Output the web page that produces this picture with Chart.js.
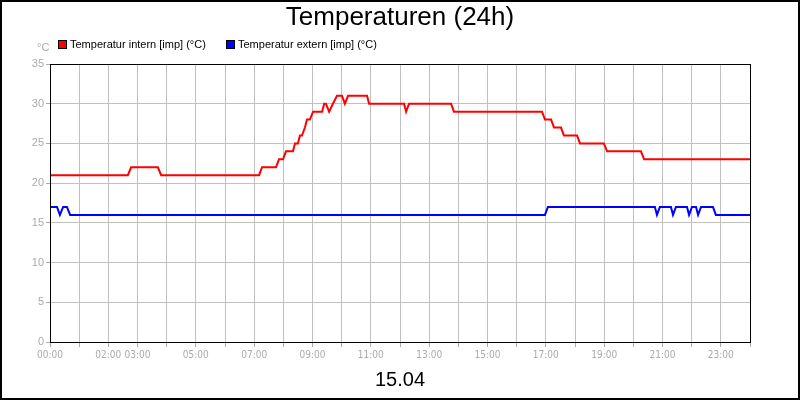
<!DOCTYPE html>
<html><head><meta charset="utf-8">
<script src="https://cdn.jsdelivr.net/npm/chart.js@4/dist/chart.umd.min.js"></script>
<style>html,body{margin:0;padding:0;background:#fff}#w{width:800px;height:400px}</style>
</head><body><div id="w"><canvas id="c"></canvas></div>
<script>
const chartTitle = "Temperaturen (24h)";
const dateLabel = "15.04";
const seriesNames = ["Temperatur intern [imp] (°C)", "Temperatur extern [imp] (°C)"];
const xLabelHours = [0, 2, 3, 5, 7, 9, 11, 13, 15, 17, 19, 21, 23];
const internHours = [0,2.67,2.78,3.70,3.81,7.17,7.27,7.75,7.85,7.99,8.09,8.33,8.40,8.50,8.57,8.64,8.74,8.81,8.91,9.02,9.33,9.40,9.46,9.57,9.70,9.84,10.01,10.11,10.22,10.87,10.94,12.14,12.21,12.31,13.75,13.85,16.87,16.97,17.18,17.28,17.52,17.62,18.07,18.17,18.99,19.10,20.26,20.37,24];
const internTemps = [21,21,22,22,21,21,22,22,23,23,24,24,25,25,26,26,27,28,28,29,29,30,30,29,30,31,31,30,31,31,30,30,29,30,30,29,29,28,28,27,27,26,26,25,25,24,24,23,23];
const externHours = [0,0.24,0.34,0.45,0.58,0.69,16.97,17.07,20.74,20.81,20.91,21.29,21.36,21.46,21.84,21.91,22.01,22.15,22.22,22.32,22.73,22.83,24];
const externTemps = [17,17,16,17,17,16,16,17,17,16,17,17,16,17,17,16,17,17,16,17,17,16,16];

const pts = (xs, ys) => xs.map((x, i) => ({x, y: ys[i]}));
const colors = ["#ff0000", "#0000ff"];

const deco = {
  id: 'deco',
  afterDraw(ch) {
    const c = ch.ctx, a = ch.chartArea;
    c.save();
    c.strokeStyle = '#000'; c.lineWidth = 1;
    c.strokeRect(a.left + 0.5, a.top + 0.5, a.right - a.left, a.bottom - a.top);
    c.lineWidth = 2; c.strokeRect(1, 1, 798, 398);
    c.fillStyle = '#000'; c.textAlign = 'center'; c.textBaseline = 'middle';
    c.font = '26px "Liberation Sans", Arial, sans-serif';
    c.fillText(chartTitle, 400, 18);
    c.font = '20px "Liberation Sans", Arial, sans-serif';
    c.fillText(dateLabel, 400, 380);
    c.textAlign = 'left';
    c.font = '11px "Liberation Sans", Arial, sans-serif';
    const lx = [58, 226];
    seriesNames.forEach((n, i) => {
      c.fillStyle = '#000'; c.fillRect(lx[i], 40, 9, 9);
      c.fillStyle = colors[i]; c.fillRect(lx[i] + 1, 41, 7, 7);
      c.fillStyle = '#000'; c.fillText(n, lx[i] + 12, 45);
    });
    c.fillStyle = '#aaa'; c.fillText('°C', 37, 48);
    c.restore();
  }
};

new Chart(document.getElementById('c'), {
  type: 'line',
  data: { datasets: [
    { label: seriesNames[0], data: pts(internHours, internTemps), borderColor: colors[0], borderWidth: 2, pointRadius: 0, tension: 0 },
    { label: seriesNames[1], data: pts(externHours, externTemps), borderColor: colors[1], borderWidth: 2, pointRadius: 0, tension: 0 }
  ]},
  options: {
    responsive: true, maintainAspectRatio: false, animation: false,
    layout: { padding: { top: 64, right: 50, left: 0, bottom: 0 } },
    plugins: { legend: { display: false }, title: { display: false }, tooltip: { enabled: false } },
    scales: {
      x: {
        type: 'linear', min: 0, max: 24,
        afterFit: s => { s.height = 58; },
        ticks: { stepSize: 1, autoSkip: false, maxRotation: 0, color: '#aaa', padding: 2,
          font: { family: '"DejaVu Sans Condensed", "Liberation Sans Narrow", sans-serif', size: 10 },
          callback: v => xLabelHours.includes(v) ? String(v).padStart(2, '0') + ':00' : '' },
        grid: { color: '#c0c0c0', tickLength: 5, tickColor: '#aaa' },
        border: { color: '#000' }
      },
      y: {
        min: 0, max: 35,
        afterFit: s => { s.width = 50; },
        ticks: { stepSize: 5, color: '#aaa', padding: 2, font: { family: '"Liberation Sans", Arial, sans-serif', size: 11 } },
        grid: { color: '#c0c0c0', tickLength: 4, tickColor: '#aaa' },
        border: { color: '#000' }
      }
    }
  },
  plugins: [deco]
});
</script></body></html>
